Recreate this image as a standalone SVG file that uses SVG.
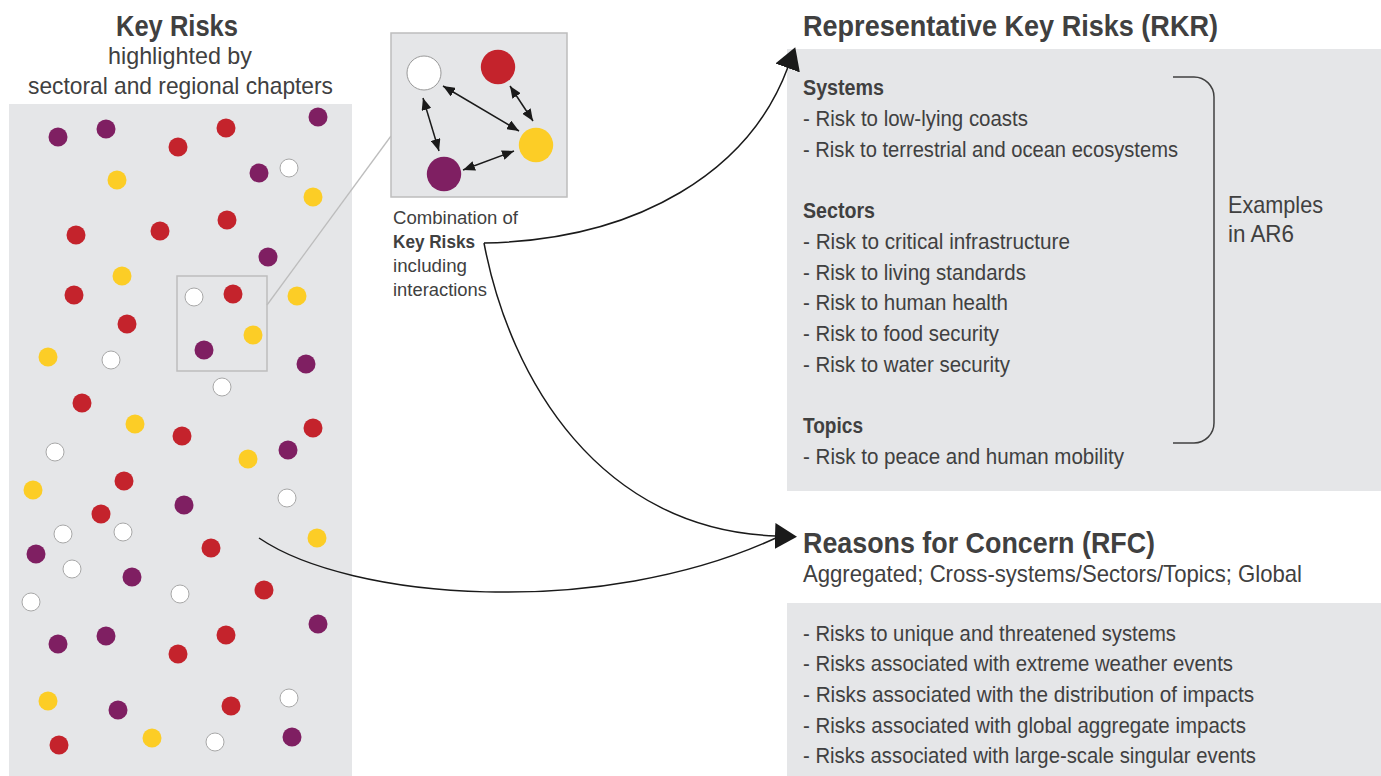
<svg xmlns="http://www.w3.org/2000/svg" width="1381" height="776" viewBox="0 0 1381 776">
<style>
text{font-family:"Liberation Sans",Arial,sans-serif;fill:#404040}
.b{font-weight:bold}
.t{font-size:30px}
.s{font-size:24px}
.l{font-size:22px}
.i{font-size:17.5px}
.panel{fill:#e5e6e8}
.p{fill:#7f1f62}
.r{fill:#c4232c}
.y{fill:#fccd26}
.w{fill:#fff;stroke:#a8a8a8;stroke-width:1}
.con{fill:none;stroke:#1a1a1a;stroke-width:1.5}
.sm{fill:none;stroke:#1a1a1a;stroke-width:1.5;marker-start:url(#sh);marker-end:url(#sh)}
</style>
<defs>
<marker id="big" markerUnits="userSpaceOnUse" viewBox="0 0 22 26" markerWidth="22" markerHeight="26" refX="1" refY="13" orient="auto"><path d="M0,0 L22,13 L0,26 Z" fill="#1a1a1a"/></marker>
<marker id="sh" markerUnits="userSpaceOnUse" viewBox="0 0 12 10" markerWidth="12" markerHeight="10" refX="12" refY="5" orient="auto-start-reverse"><path d="M0,0 L12,5 L0,10 Z" fill="#1a1a1a"/></marker>
</defs>
<rect width="1381" height="776" fill="#fff"/>

<g id="key-risks">
<text class="b t" x="116" y="36" textLength="122" lengthAdjust="spacingAndGlyphs">Key Risks</text>
<text class="s" x="108" y="64" textLength="144" lengthAdjust="spacingAndGlyphs">highlighted by</text>
<text class="s" x="28" y="94" textLength="305" lengthAdjust="spacingAndGlyphs">sectoral and regional chapters</text>
<rect class="panel" x="9" y="104" width="343" height="672"/>
<g class="p">
<circle cx="58" cy="137" r="9.5"/><circle cx="106" cy="129" r="9.5"/><circle cx="318" cy="117" r="9.5"/><circle cx="259" cy="173" r="9.5"/><circle cx="268" cy="257" r="9.5"/><circle cx="204" cy="350" r="9.5"/><circle cx="306" cy="364" r="9.5"/><circle cx="288" cy="450" r="9.5"/><circle cx="184" cy="505" r="9.5"/><circle cx="36" cy="554" r="9.5"/><circle cx="132" cy="577" r="9.5"/><circle cx="318" cy="624" r="9.5"/><circle cx="58" cy="644" r="9.5"/><circle cx="106" cy="636" r="9.5"/><circle cx="118" cy="710" r="9.5"/><circle cx="292" cy="737" r="9.5"/>
</g>
<g class="r">
<circle cx="178" cy="147" r="9.5"/><circle cx="226" cy="128" r="9.5"/><circle cx="76" cy="235" r="9.5"/><circle cx="160" cy="231" r="9.5"/><circle cx="227" cy="220" r="9.5"/><circle cx="74" cy="295" r="9.5"/><circle cx="233" cy="294" r="9.5"/><circle cx="127" cy="324" r="9.5"/><circle cx="82" cy="403" r="9.5"/><circle cx="182" cy="436" r="9.5"/><circle cx="313" cy="428" r="9.5"/><circle cx="124" cy="481" r="9.5"/><circle cx="101" cy="514" r="9.5"/><circle cx="211" cy="548" r="9.5"/><circle cx="264" cy="590" r="9.5"/><circle cx="226" cy="635" r="9.5"/><circle cx="178" cy="654" r="9.5"/><circle cx="231" cy="706" r="9.5"/><circle cx="59" cy="745" r="9.5"/>
</g>
<g class="y">
<circle cx="117" cy="180" r="9.5"/><circle cx="313" cy="197" r="9.5"/><circle cx="122" cy="276" r="9.5"/><circle cx="297" cy="296" r="9.5"/><circle cx="253" cy="335" r="9.5"/><circle cx="48" cy="357" r="9.5"/><circle cx="135" cy="424" r="9.5"/><circle cx="248" cy="459" r="9.5"/><circle cx="33" cy="490" r="9.5"/><circle cx="317" cy="538" r="9.5"/><circle cx="48" cy="701" r="9.5"/><circle cx="152" cy="738" r="9.5"/>
</g>
<g class="w">
<circle cx="289" cy="168" r="9"/><circle cx="194" cy="297" r="9"/><circle cx="111" cy="360" r="9"/><circle cx="222" cy="387" r="9"/><circle cx="55" cy="452" r="9"/><circle cx="287" cy="498" r="9"/><circle cx="63" cy="534" r="9"/><circle cx="123" cy="532" r="9"/><circle cx="72" cy="569" r="9"/><circle cx="31" cy="602" r="9"/><circle cx="180" cy="594" r="9"/><circle cx="289" cy="698" r="9"/><circle cx="215" cy="742" r="9"/>
</g>
<rect x="177" y="276" width="90" height="95" fill="none" stroke="#bdbdbd" stroke-width="1.5"/>
</g>

<g id="combination">
<line x1="267" y1="305" x2="391" y2="136" stroke="#bdbdbd" stroke-width="1.3"/>
<rect x="391" y="33" width="176" height="164" fill="#e5e6e8" stroke="#bdbdbd" stroke-width="1.5"/>
<circle cx="424" cy="73" r="17" fill="#fff" stroke="#999" stroke-width="1"/>
<circle cx="498" cy="67" r="17.2" class="r"/>
<circle cx="536" cy="145" r="17.2" class="y"/>
<circle cx="444" cy="174" r="17.2" class="p"/>
<path class="sm" d="M423,98 L439,151"/>
<path class="sm" d="M443,86 L519,131"/>
<path class="sm" d="M510,86 L533,121"/>
<path class="sm" d="M463,170 L514,151"/>
<text class="i" x="393" y="224" textLength="125" lengthAdjust="spacingAndGlyphs">Combination of</text>
<text class="i b" x="393" y="248" textLength="82" lengthAdjust="spacingAndGlyphs">Key Risks</text>
<text class="i" x="393" y="272" textLength="74" lengthAdjust="spacingAndGlyphs">including</text>
<text class="i" x="393" y="296" textLength="94" lengthAdjust="spacingAndGlyphs">interactions</text>
</g>

<g id="rkr">
<text class="b t" x="803" y="36" textLength="415" lengthAdjust="spacingAndGlyphs">Representative Key Risks (RKR)</text>
<rect class="panel" x="787" y="49" width="594" height="442"/>
<text class="l b" x="803" y="95" textLength="81" lengthAdjust="spacingAndGlyphs">Systems</text>
<text class="l" x="803" y="126" textLength="225" lengthAdjust="spacingAndGlyphs">- Risk to low-lying coasts</text>
<text class="l" x="803" y="157" textLength="375" lengthAdjust="spacingAndGlyphs">- Risk to terrestrial and ocean ecosystems</text>
<text class="l b" x="803" y="218" textLength="72" lengthAdjust="spacingAndGlyphs">Sectors</text>
<text class="l" x="803" y="249" textLength="267" lengthAdjust="spacingAndGlyphs">- Risk to critical infrastructure</text>
<text class="l" x="803" y="280" textLength="223" lengthAdjust="spacingAndGlyphs">- Risk to living standards</text>
<text class="l" x="803" y="310" textLength="205" lengthAdjust="spacingAndGlyphs">- Risk to human health</text>
<text class="l" x="803" y="341" textLength="196" lengthAdjust="spacingAndGlyphs">- Risk to food security</text>
<text class="l" x="803" y="372" textLength="207" lengthAdjust="spacingAndGlyphs">- Risk to water security</text>
<text class="l b" x="803" y="433" textLength="60" lengthAdjust="spacingAndGlyphs">Topics</text>
<text class="l" x="803" y="464" textLength="321" lengthAdjust="spacingAndGlyphs">- Risk to peace and human mobility</text>
<path d="M1173,77 H1194 A20,20 0 0 1 1214,97 V423 A20,20 0 0 1 1194,443 H1173" fill="none" stroke="#404040" stroke-width="1.5"/>
<text class="s" x="1228" y="213" textLength="95" lengthAdjust="spacingAndGlyphs">Examples</text>
<text class="s" x="1228" y="242" textLength="66" lengthAdjust="spacingAndGlyphs">in AR6</text>
</g>

<g id="rfc">
<text class="b t" x="803" y="553" textLength="352" lengthAdjust="spacingAndGlyphs">Reasons for Concern (RFC)</text>
<text class="s" x="803" y="582" textLength="499" lengthAdjust="spacingAndGlyphs">Aggregated; Cross-systems/Sectors/Topics; Global</text>
<rect class="panel" x="787" y="603" width="594" height="173"/>
<text class="l" x="803" y="641" textLength="373" lengthAdjust="spacingAndGlyphs">- Risks to unique and threatened systems</text>
<text class="l" x="803" y="671" textLength="430" lengthAdjust="spacingAndGlyphs">- Risks associated with extreme weather events</text>
<text class="l" x="803" y="702" textLength="451" lengthAdjust="spacingAndGlyphs">- Risks associated with the distribution of impacts</text>
<text class="l" x="803" y="733" textLength="443" lengthAdjust="spacingAndGlyphs">- Risks associated with global aggregate impacts</text>
<text class="l" x="803" y="763" textLength="453" lengthAdjust="spacingAndGlyphs">- Risks associated with large-scale singular events</text>
</g>

<g id="connectors">
<path class="con" d="M484,243 C640,240 750,170 788,67" marker-end="url(#big)"/>
<path class="con" d="M484,243 C510,380 600,530 776,536" marker-end="url(#big)"/>
<path class="con" d="M259,538 C350,600 600,620 778,537"/>
</g>
</svg>
